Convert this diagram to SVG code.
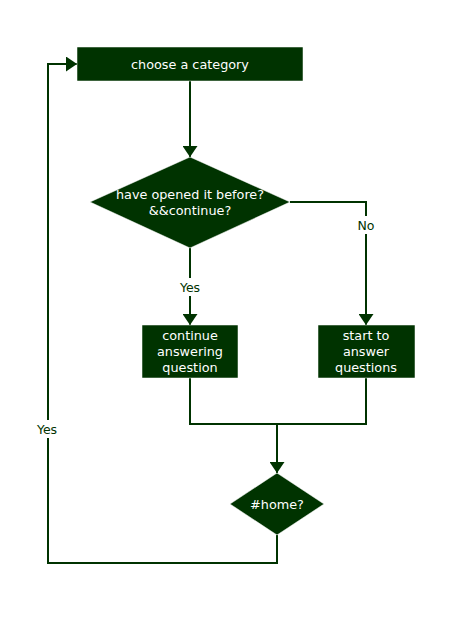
<svg xmlns="http://www.w3.org/2000/svg" width="475" height="627" viewBox="0 0 475 627">
  <style>
    .shape { fill: #003300; stroke: #ffffff; stroke-width: 0.5; }
    .label { fill: #ffffff; font-family: "DejaVu Sans", Verdana, sans-serif; font-size: 12.8px; text-anchor: middle; }
    .edge { fill: none; stroke: #003300; stroke-width: 2; }
    .edge-label { fill: #003300; font-family: "DejaVu Sans", Verdana, sans-serif; font-size: 12.5px; text-anchor: middle; }
    .bg { fill: #ffffff; }
  </style>
  <defs>
    <marker id="arrow" viewBox="0 0 11 15" refX="11" refY="7.5" markerWidth="11" markerHeight="15" markerUnits="userSpaceOnUse" orient="auto">
      <path d="M0,0 L11,7.5 L0,15 Z" fill="#003300"/>
    </marker>
  </defs>
  <rect width="475" height="627" fill="#ffffff"/>

  <g id="connectors">
    <path class="edge" d="M190,81 V157" marker-end="url(#arrow)"/>
    <path class="edge" d="M290,202 H366 V325" marker-end="url(#arrow)"/>
    <path class="edge" d="M190,248 V325" marker-end="url(#arrow)"/>
    <path class="edge" d="M190,378 V424 H366 V378"/>
    <path class="edge" d="M277,424 V473" marker-end="url(#arrow)"/>
    <path class="edge" d="M277,535 V563 H48 V64 H77" marker-end="url(#arrow)"/>
    <rect class="bg" x="354" y="216" width="24" height="18"/>
    <text class="edge-label" x="366" y="230">No</text>
    <rect class="bg" x="176" y="278" width="28" height="18"/>
    <text class="edge-label" x="190" y="292">Yes</text>
    <rect class="bg" x="33" y="420" width="28" height="18"/>
    <text class="edge-label" x="47" y="434">Yes</text>
  </g>

  <g id="choose-category">
    <rect class="shape" x="77" y="47" width="226" height="34"/>
    <text class="label" x="190" y="69">choose a category</text>
  </g>

  <g id="opened-before">
    <polygon class="shape" points="190,157 290,202 190,248 90,202"/>
    <text class="label" x="190" y="199">have opened it before?</text>
    <text class="label" x="190" y="215">&amp;&amp;continue?</text>
  </g>

  <g id="continue-answering">
    <rect class="shape" x="142" y="325" width="96" height="53"/>
    <text class="label" x="190" y="340">continue</text>
    <text class="label" x="190" y="356">answering</text>
    <text class="label" x="190" y="372">question</text>
  </g>

  <g id="start-answer">
    <rect class="shape" x="318" y="325" width="97" height="53"/>
    <text class="label" x="366" y="340">start to</text>
    <text class="label" x="366" y="356">answer</text>
    <text class="label" x="366" y="372">questions</text>
  </g>

  <g id="home">
    <polygon class="shape" points="277,473 324,504 277,535 230,504"/>
    <text class="label" x="277" y="509">#home?</text>
  </g>
</svg>
